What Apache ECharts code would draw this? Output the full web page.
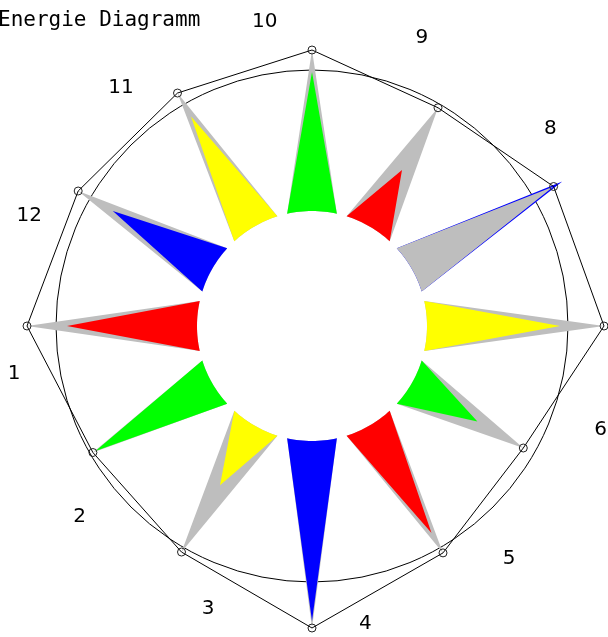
<!DOCTYPE html>
<html>
<head>
<meta charset="utf-8">
<script src="https://cdn.jsdelivr.net/npm/echarts@6/dist/echarts.min.js"></script>
<style>
html,body{margin:0;padding:0;background:#fff;}
#chart{width:608px;height:637px;}
</style>
</head>
<body>
<div id="chart"></div>
<script>
// Directions (category labels), counter-clockwise starting at the left
const directions = ['1','2','3','4','5','6','7','8','9','10','11','12'];
// Grey wedge values (reach of the polygon markers), measured from the inner hole
const greyValues  = [170, 138, 146, 187, 147, 129, 177, 164, 137, 161, 154, 155];
// Coloured wedge values
const colorValues = [130, 135, 69, 180, 124, 76, 133, 174, 65, 139, 127, 115];
// Reference circle value
const circleValue = [141];
// Label ring value
const labelValue = [190];

// styles
const wedgeColors = ['#ff0000','#00ff00','#ffff00','#0000ff','#ff0000','#00ff00','#ffff00','#0000ff','#ff0000','#00ff00','#ffff00','#0000ff'];
const greyColor = '#bebebe';
const startAngle = 180, step = 30, halfWidth = 12.5, labelShift = 9.5;
const labelOffset = [3, -3];

function angleOf(i){ return (startAngle + step*i) % 360; }

function wedge(api, val, ang, color){
  const pts = [api.coord([val, ang])];
  const n = 16;
  for (let k = 0; k <= n; k++) {
    const a = ang - halfWidth + 2*halfWidth*k/n;
    pts.push(api.coord([0, a]));
  }
  return {type:'polygon', shape:{points:pts}, style:{fill:color, stroke:null}};
}

const chart = echarts.init(document.getElementById('chart'), null, {renderer:'canvas'});
const idx = directions.map((d,i)=>i);

chart.setOption({
  animation:false,
  backgroundColor:'#fff',
  title:{
    text:'Energie Diagramm',
    left:-7, top:5,
    textStyle:{fontFamily:'DejaVu Sans Mono', fontSize:21, fontWeight:'normal', color:'#000'}
  },
  polar:{center:[312,326], radius:[115,315]},
  angleAxis:{type:'value', min:0, max:360, startAngle:0, clockwise:false, show:false, splitLine:{show:false}},
  radiusAxis:{type:'value', min:0, max:200, show:false, splitLine:{show:false}},
  series:[
    {
      type:'custom', coordinateSystem:'polar', z:1, silent:true,
      data:[0],
      renderItem:function(params, api){
        const cs = params.coordSys;
        const p = api.coord([circleValue[0], 0]);
        const r = Math.hypot(p[0]-cs.cx, p[1]-cs.cy);
        return {type:'circle', shape:{cx:cs.cx, cy:cs.cy, r:r}, style:{fill:'none', stroke:'#000', lineWidth:1}};
      }
    },
    {
      type:'custom', coordinateSystem:'polar', z:2, silent:true,
      data:idx,
      renderItem:function(params, api){
        const i = params.dataIndex;
        const ang = angleOf(i);
        const g = wedge(api, greyValues[i], ang, greyColor);
        const c = wedge(api, colorValues[i], ang, wedgeColors[i]);
        return {type:'group', children: greyValues[i] >= colorValues[i] ? [g, c] : [c, g]};
      }
    },
    {
      type:'custom', coordinateSystem:'polar', z:3, silent:true,
      data:[0],
      renderItem:function(params, api){
        const pts = greyValues.map((v,i)=>api.coord([v, angleOf(i)]));
        const children = [{type:'polygon', shape:{points:pts}, style:{fill:'none', stroke:'#000', lineWidth:1}}];
        pts.forEach(p=>children.push({type:'circle', shape:{cx:p[0], cy:p[1], r:4}, style:{fill:'none', stroke:'#222', lineWidth:1}}));
        return {type:'group', children:children};
      }
    },
    {
      type:'custom', coordinateSystem:'polar', z:4, silent:true,
      data:idx,
      renderItem:function(params, api){
        const i = params.dataIndex;
        const p = api.coord([labelValue[0], angleOf(i) + labelShift]);
        return {type:'text', x:p[0]+labelOffset[0], y:p[1]+labelOffset[1], style:{text:directions[i], fontFamily:'DejaVu Sans', fontSize:20, fill:'#000', align:'center', verticalAlign:'middle'}};
      }
    }
  ]
});
</script>
</body>
</html>
